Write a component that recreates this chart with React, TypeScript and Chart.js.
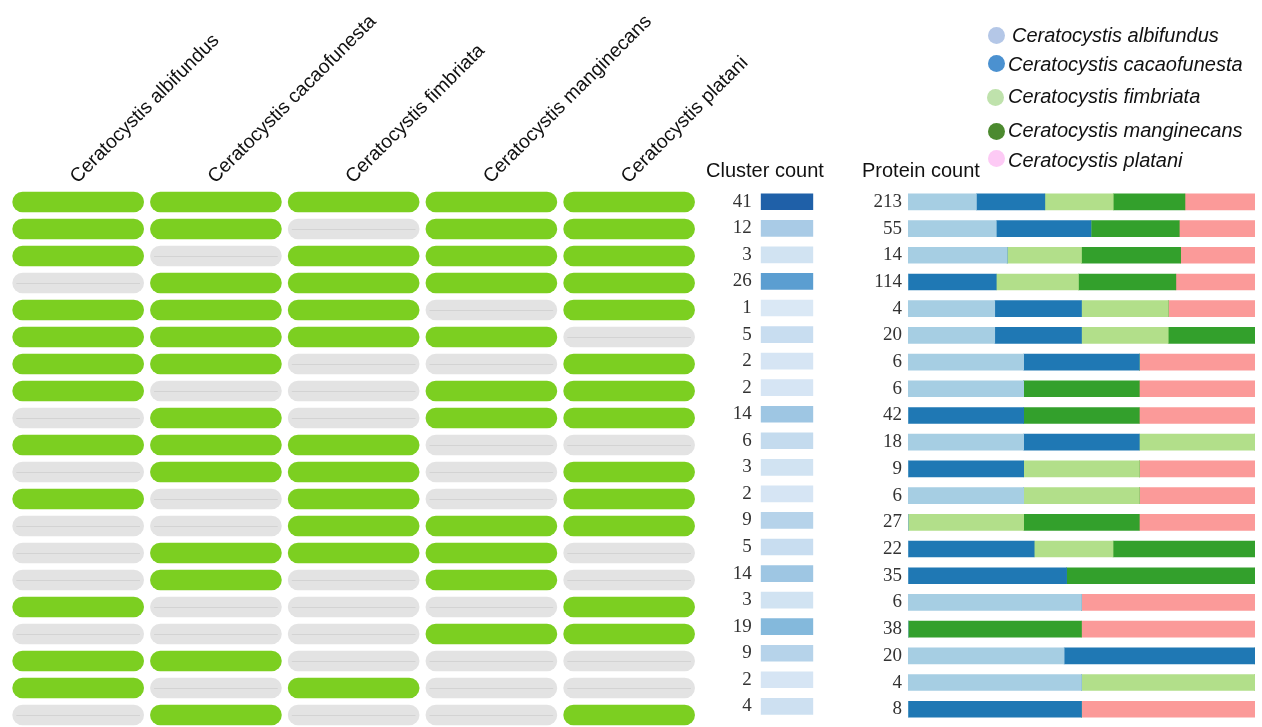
import { useEffect, useRef } from "react";
import { Chart, registerables } from "chart.js";

Chart.register(...registerables);

const SANS = "'Liberation Sans', Arial, sans-serif";
const SERIF = "'Liberation Serif', 'Times New Roman', serif";

// Species (matrix columns, stacked-bar segments, legend entries)
const species = [
  "Ceratocystis albifundus",
  "Ceratocystis cacaofunesta",
  "Ceratocystis fimbriata",
  "Ceratocystis manginecans",
  "Ceratocystis platani",
];

// Number of orthologous clusters shared by each species combination (one per row)
const clusterCount = [41, 12, 3, 26, 1, 5, 2, 2, 14, 6, 3, 2, 9, 5, 14, 3, 19, 9, 2, 4];

// Proteins contributed by each species to each row's clusters (0 = species absent)
const albifundus = [42, 14, 4, 0, 1, 5, 2, 2, 0, 6, 0, 2, 0, 0, 0, 3, 0, 9, 2, 0];
const cacaofunesta = [42, 15, 0, 29, 1, 5, 2, 0, 14, 6, 3, 0, 0, 8, 16, 0, 0, 11, 0, 4];
const fimbriata = [42, 0, 3, 27, 1, 5, 0, 0, 0, 6, 3, 2, 9, 5, 0, 0, 0, 0, 2, 0];
const manginecans = [44, 14, 4, 32, 0, 5, 0, 2, 14, 0, 0, 0, 9, 9, 19, 0, 19, 0, 0, 0];
const platani = [43, 12, 3, 26, 1, 0, 2, 2, 14, 0, 3, 2, 9, 0, 0, 3, 19, 0, 0, 4];

const proteinBySpecies = [albifundus, cacaofunesta, fimbriata, manginecans, platani];
const proteinTotal = clusterCount.map((_, r) =>
  proteinBySpecies.reduce((sum, arr) => sum + arr[r], 0)
);

const segmentColors = ["#a6cee3", "#1f78b4", "#b2df8a", "#33a02c", "#fb9a99"];
const legendColors = ["#b4c7e7", "#4b91d0", "#bfe2ac", "#4c8a2f", "#fdcaf5"];
const PRESENT = "#7ccf21";
const ABSENT = "#e3e3e3";
const PILL_GAP = 0.022;

// sequential blue scale for the cluster-count cells
const blueStops: [number, string][] = [
  [1, "#dae8f5"],
  [12, "#a9cbe6"],
  [19, "#84b9dc"],
  [26, "#5b9ed1"],
  [41, "#1f60a8"],
];

function hexToRgb(h: string) {
  const n = parseInt(h.slice(1), 16);
  return [(n >> 16) & 255, (n >> 8) & 255, n & 255];
}

function blues(v: number) {
  let i = 0;
  while (i < blueStops.length - 2 && v > blueStops[i + 1][0]) i++;
  const [v0, c0] = blueStops[i];
  const [v1, c1] = blueStops[i + 1];
  const t = Math.max(0, Math.min(1, (v - v0) / (v1 - v0)));
  const a = hexToRgb(c0);
  const b = hexToRgb(c1);
  const m = a.map((x, k) => Math.round(x + (b[k] - x) * t));
  return `rgb(${m[0]},${m[1]},${m[2]})`;
}

// faint centre line drawn through every "absent" pill
const pillMidline = {
  id: "pillMidline",
  afterDatasetsDraw(chart: any) {
    const ctx = chart.ctx;
    ctx.save();
    ctx.strokeStyle = "rgba(0,0,0,0.07)";
    ctx.lineWidth = 1;
    chart.data.datasets.forEach((_: any, di: number) => {
      const meta = chart.getDatasetMeta(di);
      meta.data.forEach((bar: any, i: number) => {
        if (proteinBySpecies[di][i] > 0) return;
        const { x, y, base } = bar.getProps(["x", "y", "base"], true);
        const yy = Math.round(y) + 0.5;
        ctx.beginPath();
        ctx.moveTo(base + 4, yy);
        ctx.lineTo(x - 4, yy);
        ctx.stroke();
      });
    });
    ctx.restore();
  },
};

// an empty right-hand axis used only to reserve a fixed margin
const spacerAxis = (width: number) => ({
  type: "category",
  position: "right",
  display: true,
  grid: { display: false, drawTicks: false },
  border: { display: false },
  ticks: { display: false },
  afterFit: (s: any) => {
    s.width = width;
  },
});

function useChart(ref: React.RefObject<HTMLCanvasElement | null>, build: () => any) {
  useEffect(() => {
    if (!ref.current) return;
    const chart = new Chart(ref.current, build());
    return () => chart.destroy();
  }, []);
}

export default function App() {
  const matrixRef = useRef<HTMLCanvasElement>(null);
  const clusterRef = useRef<HTMLCanvasElement>(null);
  const proteinRef = useRef<HTMLCanvasElement>(null);

  const rowLabels = clusterCount.map(String);

  useChart(matrixRef, () => ({
    type: "bar",
    data: {
      labels: rowLabels,
      datasets: species.map((name, s) => ({
        label: name,
        data: proteinBySpecies[s].map(() => [s + PILL_GAP, s + 1 - PILL_GAP]),
        backgroundColor: proteinBySpecies[s].map((v) => (v > 0 ? PRESENT : ABSENT)),
        borderWidth: 0,
        borderRadius: 12,
        borderSkipped: false,
        barThickness: 20.5,
        grouped: false,
        inflateAmount: 0,
        xAxisID: "x",
        yAxisID: "y",
      })),
    },
    options: {
      indexAxis: "y",
      responsive: false,
      animation: false,
      layout: { padding: { left: 9.3, right: 202, top: 8.5, bottom: 11.5 } },
      plugins: { legend: { display: false }, tooltip: { enabled: false } },
      scales: {
        x: { type: "linear", min: 0, max: 5, display: false },
        y: { type: "category", display: false, offset: true },
        xTop: {
          type: "category",
          labels: species,
          position: "top",
          offset: true,
          grid: { display: false, drawTicks: false },
          border: { display: false },
          ticks: {
            minRotation: 45,
            maxRotation: 45,
            autoSkip: false,
            padding: 0,
            labelOffset: 12,
            color: "#111",
            font: { family: SANS, size: 19.5 },
          },
          afterFit: (s: any) => {
            s.height = 180;
          },
        },
      },
    },
    plugins: [pillMidline],
  }));

  useChart(clusterRef, () => ({
    type: "bar",
    data: {
      labels: rowLabels,
      datasets: [
        {
          label: "Cluster count",
          data: clusterCount.map(() => 1),
          backgroundColor: clusterCount.map(blues),
          borderWidth: 0,
          barThickness: 16,
        },
      ],
    },
    options: {
      indexAxis: "y",
      responsive: false,
      animation: false,
      layout: { padding: { left: 6, right: 0, top: 150, bottom: 11.5 } },
      plugins: {
        legend: { display: false },
        tooltip: { enabled: false },
        title: {
          display: true,
          text: "Cluster count",
          align: "start",
          color: "#111",
          font: { family: SANS, size: 20, weight: "normal" },
          padding: { top: 9.5, bottom: 5 },
        },
      },
      scales: {
        x: { min: 0, max: 1, display: false },
        y: {
          grid: { display: false, drawTicks: false },
          border: { display: false },
          ticks: { padding: 9, color: "#333", font: { family: SERIF, size: 19 } },
          afterFit: (s: any) => {
            s.width = 54.7;
          },
        },
        yRight: spacerAxis(16.7),
      },
    },
  }));

  useChart(proteinRef, () => ({
    type: "bar",
    data: {
      labels: proteinTotal.map(String),
      datasets: species.map((name, s) => ({
        label: name,
        data: proteinBySpecies[s].map((v, r) => (v / proteinTotal[r]) * 100),
        backgroundColor: segmentColors[s],
        borderWidth: 0,
        barThickness: 16,
      })),
    },
    options: {
      indexAxis: "y",
      responsive: false,
      animation: false,
      layout: { padding: { left: 7, right: 7, top: 150, bottom: 11.5 } },
      plugins: {
        legend: { display: false },
        tooltip: { enabled: false },
        title: {
          display: true,
          text: "Protein count",
          align: "start",
          color: "#111",
          font: { family: SANS, size: 20, weight: "normal" },
          padding: { top: 9.5, bottom: 5 },
        },
      },
      scales: {
        x: { stacked: true, min: 0, max: 100, display: false },
        y: {
          stacked: true,
          grid: { display: false, drawTicks: false },
          border: { display: false },
          ticks: { padding: 6, color: "#333", font: { family: SERIF, size: 19 } },
          afterFit: (s: any) => {
            s.width = 46;
          },
        },
      },
    },
  }));

  const legendPos = [
    { cx: 996, cy: 35, tx: 1012, ty: 35 },
    { cx: 996, cy: 63, tx: 1008, ty: 64 },
    { cx: 995, cy: 97, tx: 1008, ty: 96 },
    { cx: 996, cy: 131, tx: 1008, ty: 130 },
    { cx: 996, cy: 158, tx: 1008, ty: 160 },
  ];

  return (
    <div
      style={{
        position: "fixed",
        left: 0,
        top: 0,
        width: 1262,
        height: 727,
        overflow: "hidden",
        background: "#fff",
      }}
    >
      <canvas
        ref={matrixRef}
        width={900}
        height={740}
        style={{ position: "absolute", left: 0, top: 0 }}
      />
      <canvas
        ref={clusterRef}
        width={130}
        height={740}
        style={{ position: "absolute", left: 700, top: 0 }}
      />
      <canvas
        ref={proteinRef}
        width={407}
        height={740}
        style={{ position: "absolute", left: 855, top: 0 }}
      />
      {species.map((name, i) => (
        <div key={name}>
          <div
            style={{
              position: "absolute",
              left: legendPos[i].cx - 8.5,
              top: legendPos[i].cy - 8.5,
              width: 17,
              height: 17,
              borderRadius: "50%",
              background: legendColors[i],
            }}
          />
          <div
            style={{
              position: "absolute",
              left: legendPos[i].tx,
              top: legendPos[i].ty,
              transform: "translateY(-50%)",
              font: `italic 20px ${SANS}`,
              lineHeight: "20px",
              color: "#111",
              whiteSpace: "nowrap",
            }}
          >
            {name}
          </div>
        </div>
      ))}
    </div>
  );
}
